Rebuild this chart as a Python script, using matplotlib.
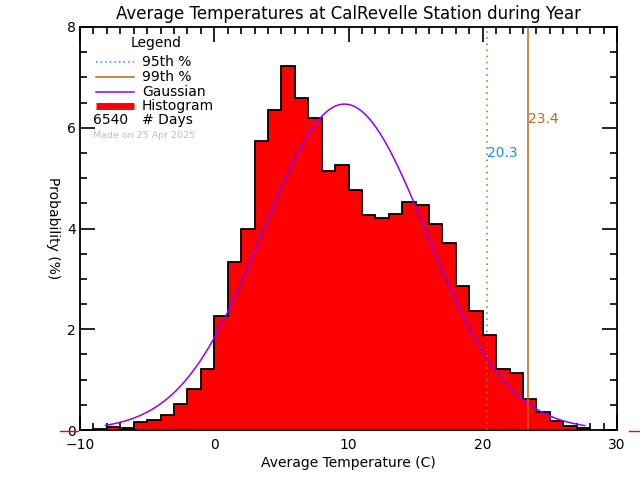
import numpy as np
import matplotlib
matplotlib.use("Agg")
import matplotlib.pyplot as plt
from matplotlib.lines import Line2D

# ---- data ----
bin_edges = list(range(-9, 29))  # 1-degree bins from -9 to 28
probabilities = [0.02, 0.05, 0.03, 0.15, 0.19, 0.29, 0.51, 0.81, 1.21,
                 2.26, 3.33, 4.00, 5.74, 6.35, 7.23, 6.59, 6.19, 5.15,
                 5.26, 4.76, 4.26, 4.21, 4.28, 4.52, 4.46, 4.09, 3.71,
                 2.85, 2.36, 1.89, 1.21, 1.13, 0.61, 0.36, 0.18, 0.07, 0.03]
gauss_mu = 9.7
gauss_sigma = 6.1
gauss_peak = 6.47
gauss_range = (-8.1, 27.6)
p95 = 20.3
p99 = 23.4
n_days = 6540
title = "Average Temperatures at CalRevelle Station during Year"
xlabel = "Average Temperature (C)"
ylabel = "Probability (%)"
made_on = "Made on 25 Apr 2025"

W, H = 640, 480
fig = plt.figure(figsize=(W / 100, H / 100), dpi=100)
L, R, T, B = 80, 617, 27, 430
ax = fig.add_axes([L / W, 1 - B / H, (R - L) / W, (B - T) / H])

# histogram
ax.stairs(probabilities, bin_edges, fill=True, color='#ff0000', zorder=2)
ax.stairs(probabilities, bin_edges, color='black', linewidth=1.3, zorder=3)

# gaussian
gx = np.linspace(gauss_range[0], gauss_range[1], 400)
gy = gauss_peak * np.exp(-(gx - gauss_mu) ** 2 / (2 * gauss_sigma ** 2))
ax.plot(gx, gy, color='#8c00ff', linewidth=1.1, zorder=4)

# percentiles
brown = '#b4691e'
ax.axvline(p95, color=brown, linestyle=(0, (1, 3)), linewidth=1.1, zorder=5)
ax.axvline(p99, color=brown, linestyle='-', linewidth=1.1, zorder=5)
ax.text(p95, 5.5, f"{p95:.1f}", color='#1e8cff', fontsize=10, ha='left', va='center')
ax.text(p99, 6.17, f"{p99:.1f}", color=brown, fontsize=10, ha='left', va='center')

ax.set_xlim(-10, 30)
ax.set_ylim(0, 8)
ax.set_xticks([-10, 0, 10, 20, 30])
ax.set_xticks(np.arange(-10, 31, 1), minor=True)
ax.set_yticks([0, 2, 4, 6, 8])
ax.set_yticks(np.arange(0, 8.01, 0.5), minor=True)
ax.tick_params(which='both', direction='in', top=True, right=True, width=1.2, labelsize=10)
ax.tick_params(which='major', length=11)
ax.tick_params(which='minor', length=5)
ax.tick_params(axis='y', pad=3)
ax.tick_params(axis='x', pad=6)
for s in ax.spines.values():
    s.set_linewidth(1.3)

ax.set_title(title, fontsize=12, pad=6)
ax.set_xlabel(xlabel, fontsize=10, labelpad=3)
ax.set_ylabel(ylabel, fontsize=10, rotation=270, va='center', ha='center')
ax.yaxis.set_label_coords(-0.05, 0.5)

def fx(x):
    return x / W

def fy(y):
    return 1 - y / H

# legend (manual)
fig.text(fx(156), fy(43), "Legend", fontsize=10, ha='center', va='center')
items = [
    ("95th %", dict(color='#1e8cff', linestyle=(0, (1, 2)), linewidth=1.1), 62),
    ("99th %", dict(color=brown, linestyle='-', linewidth=1.1), 77),
    ("Gaussian", dict(color='#8c00ff', linestyle='-', linewidth=1.1), 92),
    ("Histogram", dict(color='#ff0000', linestyle='-', linewidth=5, solid_capstyle='butt'), 106),
]
for label, style, y in items:
    fig.add_artist(Line2D([fx(96), fx(134)], [fy(y), fy(y)], transform=fig.transFigure, **style))
    fig.text(fx(142), fy(y), label, fontsize=10, ha='left', va='center')
fig.text(fx(93), fy(120), f"{n_days}", fontsize=10, ha='left', va='center')
fig.text(fx(142), fy(120), "# Days", fontsize=10, ha='left', va='center')
fig.text(fx(93), fy(135), made_on, fontsize=6.8, ha='left', va='center', color='#c0c0c0')

# red baseline segments outside the frame
fig.add_artist(Line2D([fx(60), fx(78)], [fy(431), fy(431)], transform=fig.transFigure, color='red', linewidth=1))
fig.add_artist(Line2D([fx(629), fx(640)], [fy(431), fy(431)], transform=fig.transFigure, color='red', linewidth=1))

fig.savefig("out.png", dpi=100)
